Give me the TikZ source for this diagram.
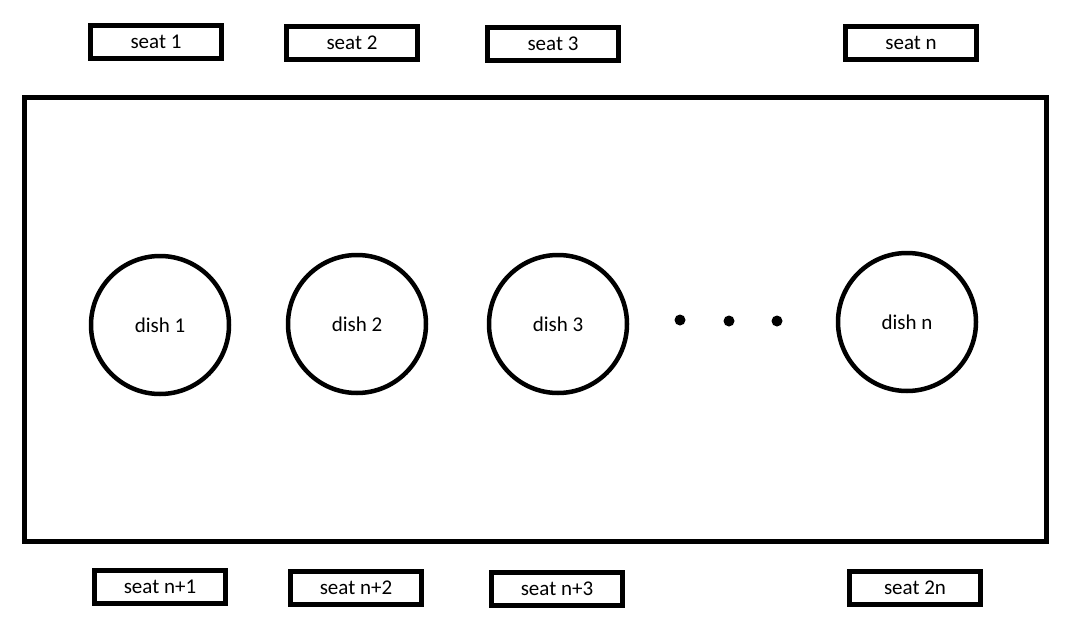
\documentclass[tikz,border=0pt]{standalone}
\usepackage{fontspec}
\setmainfont{Carlito}
\begin{document}
\begin{tikzpicture}[x=1pt,y=-1pt,
  seatbox/.style={draw=black,line width=5pt,minimum width=131pt,minimum height=33pt,inner sep=0pt,font=\fontsize{21}{25}\selectfont},
  dishnode/.style={draw=black,line width=4.5pt,circle,minimum size=138pt,inner sep=0pt,font=\fontsize{21}{25}\selectfont},
  dotnode/.style={fill=black,circle,minimum size=11pt,inner sep=0pt}]
\useasboundingbox (0,0) rectangle (1074,629);
\fill[white] (0,0) rectangle (1074,629);
\node[draw=black,line width=5pt,minimum width=1022pt,minimum height=444pt,inner sep=0pt] (table) at (535,319) {};
\node[seatbox] (s1) at (156,42) {seat 1};
\node[seatbox] (s2) at (352,43) {seat 2};
\node[seatbox] (s3) at (553,44) {seat 3};
\node[seatbox] (sn) at (911,43) {seat n};
\node[seatbox] (sn1) at (160,587) {seat n+1};
\node[seatbox] (sn2) at (356,588) {seat n+2};
\node[seatbox] (sn3) at (557,589) {seat n+3};
\node[seatbox] (s2n) at (915,588) {seat 2n};
\node[dishnode] (d1) at (160,325) {dish 1};
\node[dishnode] (d2) at (357,324) {dish 2};
\node[dishnode] (d3) at (558,324) {dish 3};
\node[dishnode] (dn) at (907,322) {dish n};
\node[dotnode] (p1) at (680,320) {};
\node[dotnode] (p2) at (729,321) {};
\node[dotnode] (p3) at (777,321) {};
\end{tikzpicture}
\end{document}
